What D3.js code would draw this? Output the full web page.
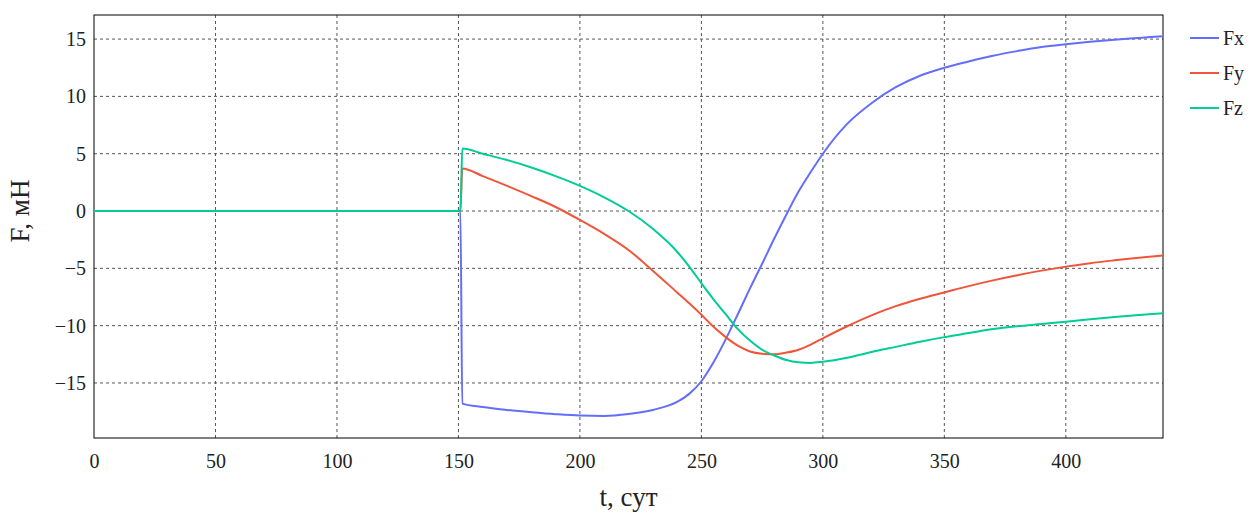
<!DOCTYPE html>
<html lang="ru">
<head>
<meta charset="utf-8">
<title>F(t)</title>
<script src="https://cdn.jsdelivr.net/npm/d3@7"></script>
<style>
  body { margin: 0; background: #fff; }
  svg text { font-family: "Liberation Serif", "DejaVu Serif", serif; fill: #222; }
  .grid line { stroke: #555; stroke-dasharray: 3,3; stroke-width: 1; }
</style>
</head>
<body>
<div id="chart"></div>
<script>
// время, сут
var tDays = [0, 150.8, 151.6, 160, 170, 180, 190, 200, 210, 220, 230, 240, 245, 250, 255, 260, 265, 270, 275, 280, 285, 290, 295, 300,
             310, 320, 330, 340, 350, 360, 370, 380, 390, 400, 410, 420, 430, 440];

// компоненты силы, мН
var Fx = [0, 0, -16.8, -17.1, -17.35, -17.55, -17.72, -17.84, -17.87, -17.7, -17.35, -16.65, -15.95, -14.85, -13.2, -11.2, -9.0, -6.75, -4.6, -2.4, -0.3, 1.7, 3.4, 5.0,
          7.6, 9.4, 10.8, 11.8, 12.5, 13.05, 13.55, 13.95, 14.3, 14.55, 14.77, 14.95, 15.1, 15.25];
var Fy = [0, 0, 3.72, 3.05, 2.2, 1.3, 0.35, -0.78, -2.0, -3.4, -5.2, -7.1, -8.05, -9.05, -10.1, -11.0, -11.75, -12.25, -12.45, -12.5, -12.35, -12.1, -11.65, -11.1,
          -10.05, -9.1, -8.3, -7.65, -7.1, -6.55, -6.05, -5.6, -5.2, -4.85, -4.55, -4.3, -4.07, -3.88];
var Fz = [0, 0, 5.45, 5.0, 4.45, 3.8, 3.05, 2.2, 1.2, 0.0, -1.55, -3.55, -4.85, -6.3, -7.7, -9.0, -10.3, -11.3, -12.1, -12.6, -13.0, -13.2, -13.25, -13.15,
          -12.8, -12.3, -11.85, -11.4, -11.0, -10.65, -10.3, -10.05, -9.85, -9.65, -9.45, -9.25, -9.08, -8.92];

var seriesNames = ["Fx", "Fy", "Fz"];
var seriesColors = ["#636efa", "#ef553b", "#00cc96"];
var xTicks = [0, 50, 100, 150, 200, 250, 300, 350, 400];
var yTicks = [-15, -10, -5, 0, 5, 10, 15];

var width = 1253, height = 515;
var margin = {left: 94, right: 90, top: 15, bottom: 77};

var svg = d3.select("#chart").append("svg")
    .attr("width", width)
    .attr("height", height);

var x = d3.scaleLinear().domain([0, 440]).range([margin.left, width - margin.right]);
var y = d3.scaleLinear().domain([-19.8, 17.1]).range([height - margin.bottom, margin.top]);

// сетка
var grid = svg.append("g").attr("class", "grid");
grid.selectAll("line.v").data(xTicks.filter(function (d) { return d > 0; }))
    .enter().append("line")
    .attr("x1", function (d) { return x(d); }).attr("x2", function (d) { return x(d); })
    .attr("y1", y.range()[0]).attr("y2", y.range()[1]);
grid.selectAll("line.h").data(yTicks)
    .enter().append("line")
    .attr("y1", function (d) { return y(d); }).attr("y2", function (d) { return y(d); })
    .attr("x1", x.range()[0]).attr("x2", x.range()[1]);

// оси
var xAxis = svg.append("g")
    .attr("transform", "translate(0," + y.range()[0] + ")")
    .call(d3.axisBottom(x).tickValues(xTicks).tickSize(0).tickPadding(16));
var yAxis = svg.append("g")
    .attr("transform", "translate(" + x.range()[0] + ",0)")
    .call(d3.axisLeft(y).tickValues(yTicks).tickSize(0).tickPadding(8)
        .tickFormat(function (d) { return d < 0 ? "\u2212" + Math.abs(d) : d; }));
[xAxis, yAxis].forEach(function (a) {
    a.select(".domain").remove();
    a.selectAll("text").attr("font-size", 20).attr("fill", "#222")
        .attr("font-family", "Liberation Serif, DejaVu Serif, serif");
});

// рамка
svg.append("rect")
    .attr("x", x.range()[0]).attr("y", y.range()[1])
    .attr("width", x.range()[1] - x.range()[0])
    .attr("height", y.range()[0] - y.range()[1])
    .attr("fill", "none").attr("stroke", "#000").attr("stroke-width", 1);

// линии (Fz рисуется последней, поверх остальных)
var allSeries = [Fx, Fy, Fz];
var line = d3.line()
    .x(function (d, i) { return x(tDays[i]); })
    .y(function (d) { return y(d); })
    .curve(d3.curveMonotoneX);

svg.append("g").selectAll("path")
    .data(allSeries)
    .enter().append("path")
    .attr("d", line)
    .attr("fill", "none")
    .attr("stroke", function (d, i) { return seriesColors[i]; })
    .attr("stroke-width", 2);

// подписи осей
svg.append("text")
    .attr("x", (x.range()[0] + x.range()[1]) / 2)
    .attr("y", 506)
    .attr("text-anchor", "middle")
    .attr("font-size", 27)
    .text("t, сут");
svg.append("text")
    .attr("transform", "translate(29," + y(0) + ") rotate(-90)")
    .attr("text-anchor", "middle")
    .attr("font-size", 27)
    .text("F, мН");

// легенда
var legend = svg.append("g").selectAll("g")
    .data(seriesNames)
    .enter().append("g")
    .attr("transform", function (d, i) { return "translate(1190," + (38 + i * 35) + ")"; });
legend.append("line")
    .attr("x1", 0).attr("x2", 29)
    .attr("stroke", function (d, i) { return seriesColors[i]; })
    .attr("stroke-width", 2);
legend.append("text")
    .attr("x", 33).attr("y", 7)
    .attr("font-size", 20)
    .text(function (d) { return d; });
</script>
</body>
</html>
